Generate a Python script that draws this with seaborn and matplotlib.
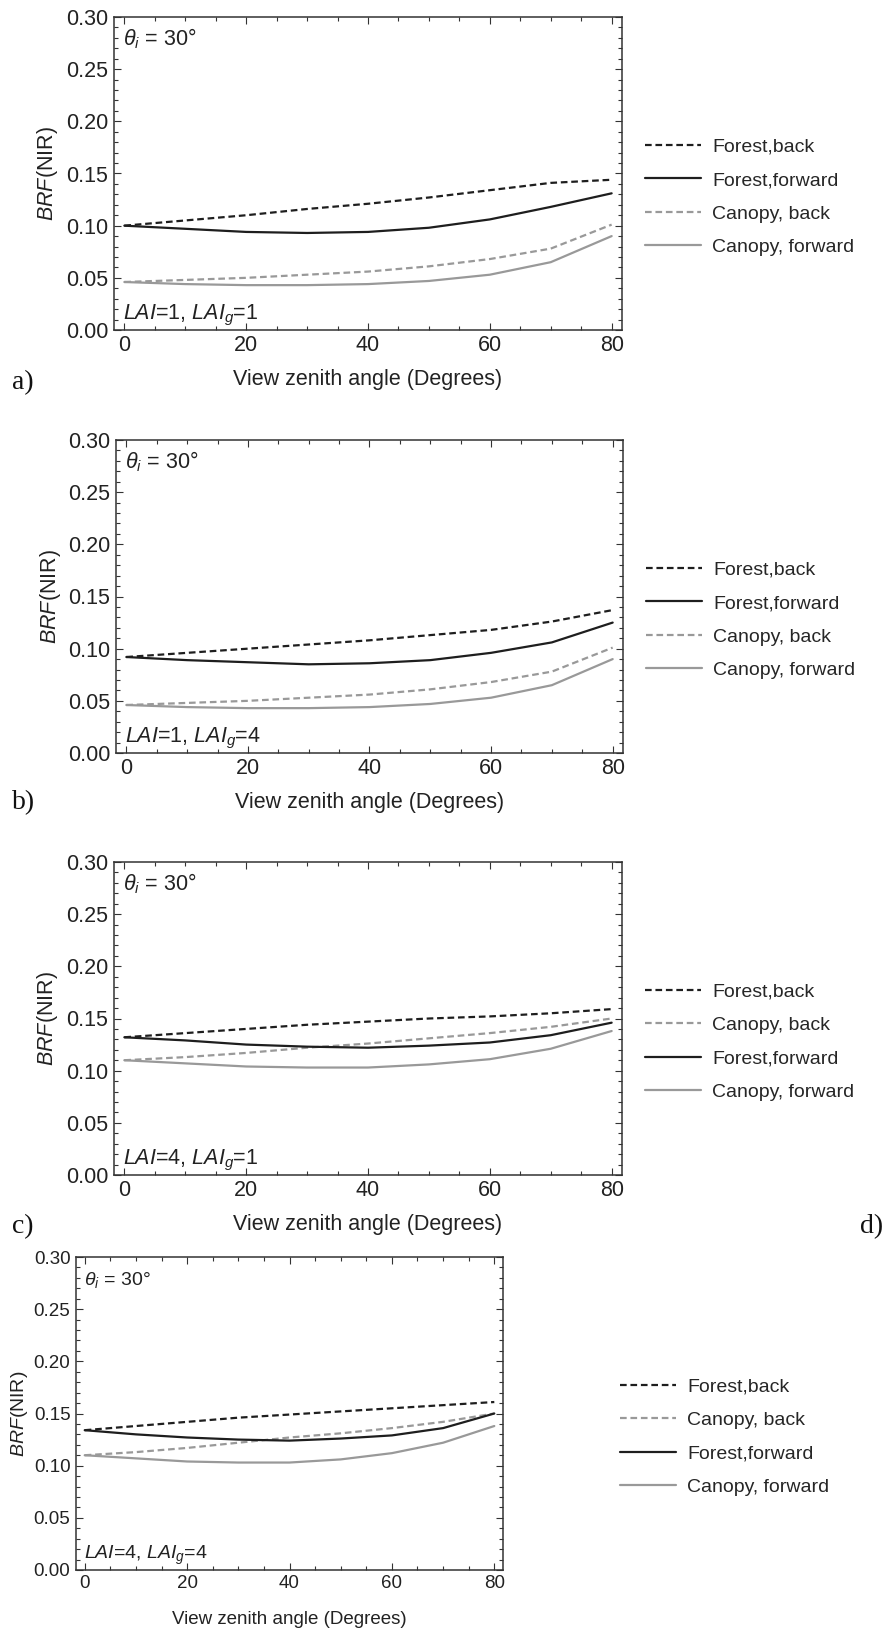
import numpy as np
import pandas as pd
import seaborn as sns
import matplotlib.pyplot as plt
from matplotlib.ticker import MultipleLocator

sns.set_theme(style='white')
plt.rcParams['font.family'] = ['Liberation Sans', 'DejaVu Sans']
plt.rcParams['mathtext.fontset'] = 'custom'
plt.rcParams['mathtext.rm'] = 'Liberation Sans'
plt.rcParams['mathtext.it'] = 'Liberation Sans:italic'

# view zenith angles (degrees)
angles = [0, 10, 20, 30, 40, 50, 60, 70, 80]

# a) LAI=1, LAIg=1
a_forest_back = [0.100, 0.105, 0.110, 0.116, 0.121, 0.127, 0.134, 0.141, 0.144]
a_forest_fwd = [0.100, 0.097, 0.094, 0.093, 0.094, 0.098, 0.106, 0.118, 0.131]
a_canopy_back = [0.046, 0.048, 0.050, 0.053, 0.056, 0.061, 0.068, 0.078, 0.101]
a_canopy_fwd = [0.046, 0.044, 0.043, 0.043, 0.044, 0.047, 0.053, 0.065, 0.090]

# b) LAI=1, LAIg=4
b_forest_back = [0.092, 0.096, 0.100, 0.104, 0.108, 0.113, 0.118, 0.126, 0.137]
b_forest_fwd = [0.092, 0.089, 0.087, 0.085, 0.086, 0.089, 0.096, 0.106, 0.125]
b_canopy_back = [0.046, 0.048, 0.050, 0.053, 0.056, 0.061, 0.068, 0.078, 0.101]
b_canopy_fwd = [0.046, 0.044, 0.043, 0.043, 0.044, 0.047, 0.053, 0.065, 0.090]

# c) LAI=4, LAIg=1
c_forest_back = [0.132, 0.136, 0.140, 0.144, 0.147, 0.150, 0.152, 0.155, 0.159]
c_canopy_back = [0.110, 0.113, 0.117, 0.122, 0.126, 0.131, 0.136, 0.142, 0.150]
c_forest_fwd = [0.132, 0.129, 0.125, 0.123, 0.122, 0.124, 0.127, 0.134, 0.146]
c_canopy_fwd = [0.110, 0.107, 0.104, 0.103, 0.103, 0.106, 0.111, 0.121, 0.138]

# d) LAI=4, LAIg=4
d_forest_back = [0.134, 0.138, 0.142, 0.146, 0.149, 0.152, 0.155, 0.158, 0.161]
d_canopy_back = [0.110, 0.113, 0.117, 0.122, 0.127, 0.131, 0.136, 0.142, 0.150]
d_forest_fwd = [0.134, 0.130, 0.127, 0.125, 0.124, 0.126, 0.129, 0.136, 0.150]
d_canopy_fwd = [0.110, 0.107, 0.104, 0.103, 0.103, 0.106, 0.112, 0.122, 0.138]

FB, FF, CB, CF = 'Forest,back', 'Forest,forward', 'Canopy, back', 'Canopy, forward'
dark, grey = '#1e1e1e', '#999999'
palette = {FB: dark, FF: dark, CB: grey, CF: grey}
dashes = {FB: (3, 1.7), FF: '', CB: (3, 1.7), CF: ''}

W, H = 885, 1632
fig = plt.figure(figsize=(W / 100, H / 100), dpi=100)

# (left, right, top, bottom) in pixels, series, order, note, font size, annotation size
panels = [
    ((114, 622, 17, 330), {FB: a_forest_back, FF: a_forest_fwd, CB: a_canopy_back, CF: a_canopy_fwd},
     [FB, FF, CB, CF], r'$LAI$=1, $LAI_g$=1', 15.5, 15.5),
    ((116, 623, 440, 753), {FB: b_forest_back, FF: b_forest_fwd, CB: b_canopy_back, CF: b_canopy_fwd},
     [FB, FF, CB, CF], r'$LAI$=1, $LAI_g$=4', 15.5, 15.5),
    ((114, 622, 862, 1175), {FB: c_forest_back, FF: c_forest_fwd, CB: c_canopy_back, CF: c_canopy_fwd},
     [FB, CB, FF, CF], r'$LAI$=4, $LAI_g$=1', 15.5, 15.5),
    ((76, 503, 1257, 1570), {FB: d_forest_back, FF: d_forest_fwd, CB: d_canopy_back, CF: d_canopy_fwd},
     [FB, CB, FF, CF], r'$LAI$=4, $LAI_g$=4', 13.5, 14),
]
legend_x = [645, 646, 645, 620]
ylabel_x = [48, 50, 48, 20]

for i, (box, series, order, note, fs, fs_note) in enumerate(panels):
    l, r, t, b = box
    ax = fig.add_axes([l / W, 1 - b / H, (r - l) / W, (b - t) / H])
    rows = []
    for name in order:
        for x, y in zip(angles, series[name]):
            rows.append({'angle': x, 'BRF': y, 'series': name})
    df = pd.DataFrame(rows)
    sns.lineplot(data=df, x='angle', y='BRF', hue='series', style='series',
                 hue_order=order, style_order=order, palette=palette, dashes=dashes,
                 linewidth=1.6, errorbar=None, ax=ax)

    ax.set_xlim(-1.7, 81.7)
    ax.set_ylim(0, 0.30)
    ax.xaxis.set_major_locator(MultipleLocator(20))
    ax.xaxis.set_minor_locator(MultipleLocator(5))
    ax.yaxis.set_major_locator(MultipleLocator(0.05))
    ax.yaxis.set_minor_locator(MultipleLocator(0.01))
    ax.yaxis.set_major_formatter(plt.FormatStrFormatter('%.2f'))
    ax.tick_params(which='both', direction='in', bottom=True, left=True, top=True, right=True,
                   color='#333333', width=0.8, labelcolor='#222222', labelsize=fs)
    ax.tick_params(which='major', length=5)
    ax.tick_params(which='minor', length=2.8)
    ax.tick_params(axis='y', which='both', pad=4)
    ax.tick_params(axis='x', which='both', pad=3.5)
    for sp in ax.spines.values():
        sp.set_color('#333333')
        sp.set_linewidth(1.1)

    ax.set_xlabel('View zenith angle (Degrees)', fontsize=fs, color='#222222', va='center')
    ax.xaxis.set_label_coords(0.5, -0.157)
    ax.set_ylabel(r'$BRF$(NIR)', fontsize=fs_note, color='#222222', va='center')
    ax.yaxis.set_label_coords((ylabel_x[i] - l) / (r - l), 0.5)

    ax.text(0.018, 0.91, r'$\theta_i$ = 30°', transform=ax.transAxes, fontsize=fs_note,
            color='#222222', va='baseline', ha='left')
    ax.text(0.018, 0.035, note, transform=ax.transAxes, fontsize=fs_note,
            color='#222222', va='baseline', ha='left')

    handles, labels = ax.get_legend_handles_labels()
    ax.legend(handles, labels, loc='center left',
              bbox_to_anchor=((legend_x[i] - l) / (r - l), 0.425),
              frameon=False, fontsize=14, handlelength=2.9, handletextpad=0.55,
              labelspacing=0.82, borderaxespad=0, borderpad=0)

# panel letters
for txt, x, y, ha in [('a)', 12, 383, 'left'), ('b)', 12, 803, 'left'),
                      ('c)', 12, 1227, 'left'), ('d)', 883, 1227, 'right')]:
    fig.text(x / W, 1 - y / H, txt, ha=ha, va='center', fontsize=20,
             family='Liberation Serif', color='#111111')

fig.savefig('out.png', dpi=100)
